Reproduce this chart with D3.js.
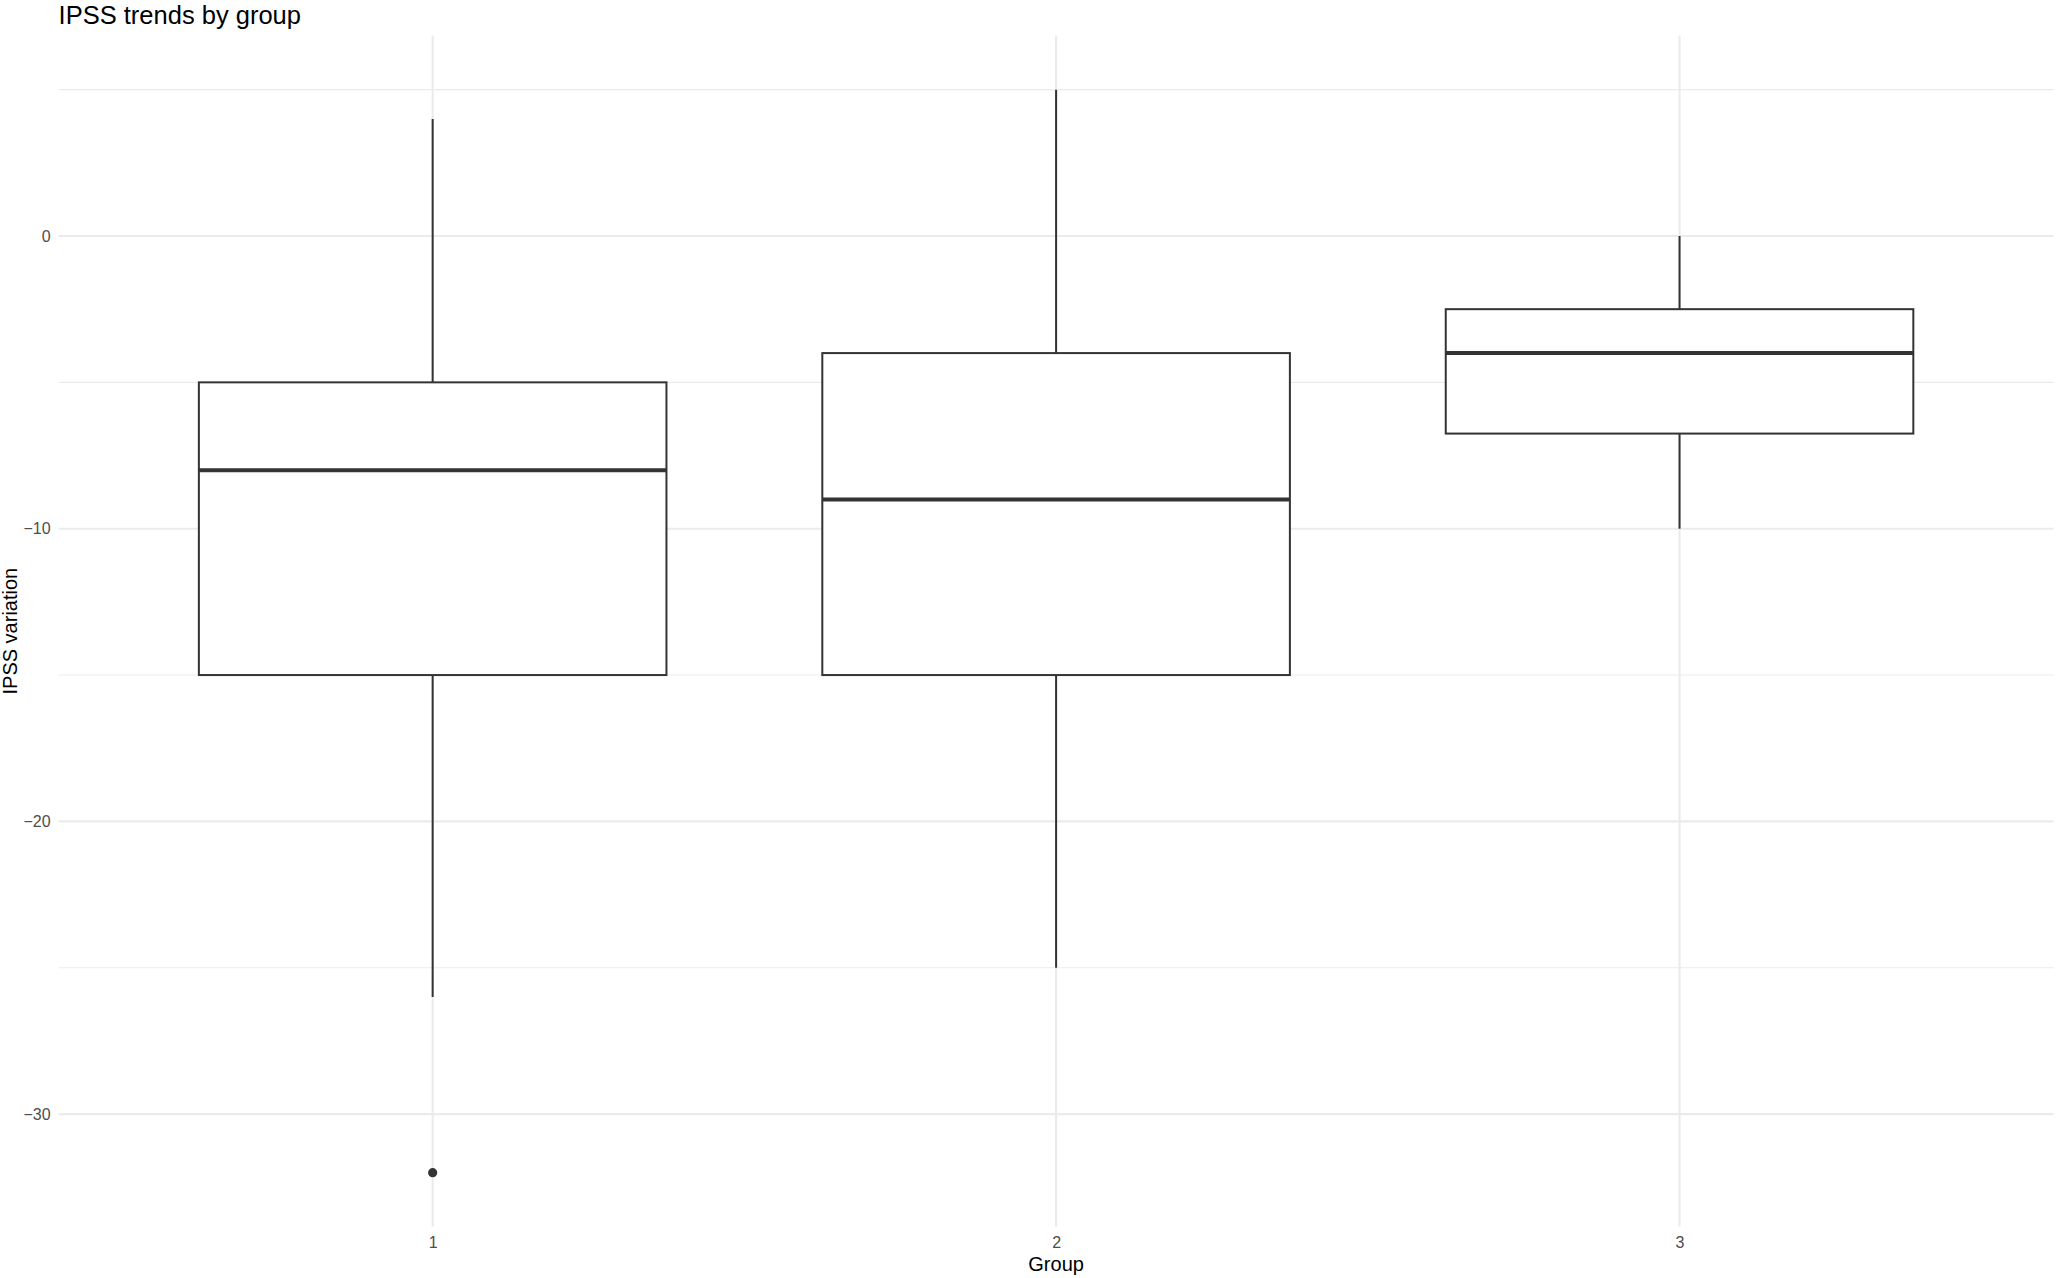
<!DOCTYPE html>
<html>
<head>
<meta charset="utf-8">
<script src="https://cdn.jsdelivr.net/npm/d3@7"></script>
<style>
  html, body { margin: 0; padding: 0; background: #ffffff; }
  svg { display: block; }
</style>
</head>
<body>
<script>
// ---- Data ----
const categories = ["1", "2", "3"];
const upperWhisker = [4, 5, 0];
const q3 = [-5, -4, -2.5];
const medians = [-8, -9, -4];
const q1 = [-15, -15, -6.75];
const lowerWhisker = [-26, -25, -10];
const outlierGroups = ["1"];
const outlierValues = [-32];
const majorTicks = [0, -10, -20, -30];
const minorTicks = [5, -5, -15, -25];
const titleText = "IPSS trends by group";
const xTitle = "Group";
const yTitle = "IPSS variation";

// ---- Layout ----
const W = 2056, H = 1278;
const panel = { left: 58.6, right: 2053.6, top: 35.5, bottom: 1226.8 };
const font = "'Liberation Sans', Arial, Helvetica, sans-serif";

const svg = d3.select("body").append("svg")
  .attr("width", W).attr("height", H)
  .attr("viewBox", `0 0 ${W} ${H}`);

const x = d3.scalePoint().domain(categories)
  .range([panel.left, panel.right]).padding(0.6);

const allVals = upperWhisker.concat(lowerWhisker, outlierValues);
const yMin = d3.min(allVals), yMax = d3.max(allVals);
const pad = (yMax - yMin) * 0.05;
const y = d3.scaleLinear().domain([yMin - pad, yMax + pad])
  .range([panel.bottom, panel.top]);

// ---- Grid ----
const grid = svg.append("g");
grid.selectAll("line.minor").data(minorTicks).join("line")
  .attr("x1", panel.left).attr("x2", panel.right)
  .attr("y1", d => y(d)).attr("y2", d => y(d))
  .attr("stroke", "#EBEBEB").attr("stroke-width", 1.1);
grid.selectAll("line.major").data(majorTicks).join("line")
  .attr("x1", panel.left).attr("x2", panel.right)
  .attr("y1", d => y(d)).attr("y2", d => y(d))
  .attr("stroke", "#EBEBEB").attr("stroke-width", 2.1);
grid.selectAll("line.vmajor").data(categories).join("line")
  .attr("x1", d => x(d)).attr("x2", d => x(d))
  .attr("y1", panel.top).attr("y2", panel.bottom)
  .attr("stroke", "#EBEBEB").attr("stroke-width", 2.1);

// ---- Axes (text only, theme_minimal style) ----
const yAxis = d3.axisLeft(y).tickValues(majorTicks).tickSize(0).tickPadding(8)
  .tickFormat(d3.format("d"));
const gy = svg.append("g").attr("transform", `translate(${panel.left},0)`).call(yAxis);
gy.select(".domain").remove();
gy.selectAll("text").attr("fill", "#4D4D4D").attr("font-size", 16)
  .attr("font-family", font);

const xAxis = d3.axisBottom(x).tickSize(0).tickPadding(10);
const gx = svg.append("g").attr("transform", `translate(0,${panel.bottom})`).call(xAxis);
gx.select(".domain").remove();
gx.selectAll("text").attr("fill", "#4D4D4D").attr("font-size", 16)
  .attr("font-family", font);

// ---- Boxes ----
const boxW = x.step() * 0.75;
const data = categories.map((c, i) => ({
  c, hi: upperWhisker[i], q3: q3[i], med: medians[i], q1: q1[i], lo: lowerWhisker[i]
}));
const stroke = "#333333";
const boxes = svg.append("g").selectAll("g").data(data).join("g");
boxes.append("line")
  .attr("x1", d => x(d.c)).attr("x2", d => x(d.c))
  .attr("y1", d => y(d.hi)).attr("y2", d => y(d.q3))
  .attr("stroke", stroke).attr("stroke-width", 2);
boxes.append("line")
  .attr("x1", d => x(d.c)).attr("x2", d => x(d.c))
  .attr("y1", d => y(d.q1)).attr("y2", d => y(d.lo))
  .attr("stroke", stroke).attr("stroke-width", 2);
boxes.append("rect")
  .attr("x", d => x(d.c) - boxW / 2).attr("width", boxW)
  .attr("y", d => y(d.q3)).attr("height", d => y(d.q1) - y(d.q3))
  .attr("fill", "#ffffff").attr("stroke", stroke).attr("stroke-width", 2);
boxes.append("line")
  .attr("x1", d => x(d.c) - boxW / 2).attr("x2", d => x(d.c) + boxW / 2)
  .attr("y1", d => y(d.med)).attr("y2", d => y(d.med))
  .attr("stroke", stroke).attr("stroke-width", 4);

// ---- Outliers ----
svg.append("g").selectAll("circle").data(outlierValues).join("circle")
  .attr("cx", (d, i) => x(outlierGroups[i])).attr("cy", d => y(d))
  .attr("r", 4.6).attr("fill", stroke);

// ---- Titles ----
svg.append("text").attr("x", panel.left).attr("y", 23.5)
  .attr("font-family", font).attr("font-size", 25.5).attr("fill", "#000")
  .text(titleText);
svg.append("text").attr("x", (panel.left + panel.right) / 2).attr("y", 1271)
  .attr("text-anchor", "middle")
  .attr("font-family", font).attr("font-size", 20).attr("fill", "#000")
  .text(xTitle);
svg.append("text")
  .attr("transform", `translate(17,${(panel.top + panel.bottom) / 2}) rotate(-90)`)
  .attr("text-anchor", "middle")
  .attr("font-family", font).attr("font-size", 20).attr("fill", "#000")
  .text(yTitle);
</script>
</body>
</html>
